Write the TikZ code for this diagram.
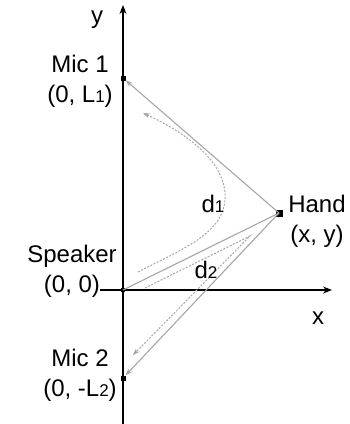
\documentclass[tikz,border=0pt]{standalone}
\usepackage{fontspec}
\setmainfont{Liberation Sans}
\usetikzlibrary{arrows.meta}
\newcommand{\sbs}[1]{{\fontsize{17}{18}\selectfont #1}}
\begin{document}
\begin{tikzpicture}[x=1pt,y=-1pt,
  lbl/.style={inner sep=0pt,font=\fontsize{24}{27}\selectfont},
  axis/.style={line width=1.2pt,-{Stealth[length=9pt,width=7pt]}},
  ray/.style={gray!70,line width=1.1pt,-{Stealth[length=7pt,width=5pt,fill=black]}},
  wave/.style={gray!70,line width=1pt,dash pattern=on 2pt off 1.5pt,-{Stealth[length=7pt,width=5pt,fill=black]}},
  pt/.style={fill=black,inner sep=0pt,minimum size=5pt},
  hpt/.style={fill=black,inner sep=0pt,minimum size=7pt}]
\useasboundingbox (0,0) rectangle (350,424);
% points
\coordinate (ybot) at (123,424);
\coordinate (ytop) at (123,5);
\coordinate (xl) at (100,290);
\coordinate (xr) at (332,290);
\node[pt,circle] (spk) at (123,290) {};
\node[pt] (mic1) at (123,78) {};
\node[pt] (mic2) at (123,378) {};
\node[hpt] (hand) at (279,213) {};
% axes
\draw[axis] (ybot) -- (ytop);
\draw[axis] (xl) -- (xr);
% solid rays
\draw[gray!70,line width=1.1pt] (spk.center) -- (hand.center);
\draw[ray] (hand.center) -- (mic1);
\draw[ray] (hand.center) -- (mic2);
% dashed echoes
\coordinate (w1s) at (138,272);
\coordinate (w1m) at (225,200);
\coordinate (w1e) at (143,113);
\draw[wave] (w1s) .. controls (180,250) and (222,235) .. (w1m)
  .. controls (228,160) and (180,130) .. (w1e);
\coordinate (w2s) at (145,288);
\coordinate (w2m) at (250,236);
\coordinate (w2e) at (133,355);
\draw[wave] (w2s) -- (w2m) -- (w2e);
% labels
\node[lbl] (ylab) at (97,20) {y};
\node[lbl] (xlab) at (318,318) {x};
\node[lbl] (m1a) at (80,64) {Mic 1};
\node[lbl] (m1b) at (80,96) {(0, L\sbs{1})};
\node[lbl] (ha) at (317,204) {Hand};
\node[lbl] (hb) at (317,236) {(x, y)};
\node[lbl] (d1) at (213,204) {d\sbs{1}};
\node[lbl] (spa) at (72,256) {Speaker};
\node[lbl] (spb) at (72,286) {(0, 0)};
\node[lbl] (d2) at (206,270) {d\sbs{2}};
\node[lbl] (m2a) at (80,358) {Mic 2};
\node[lbl] (m2b) at (80,390) {(0, -L\sbs{2})};
\end{tikzpicture}
\end{document}
